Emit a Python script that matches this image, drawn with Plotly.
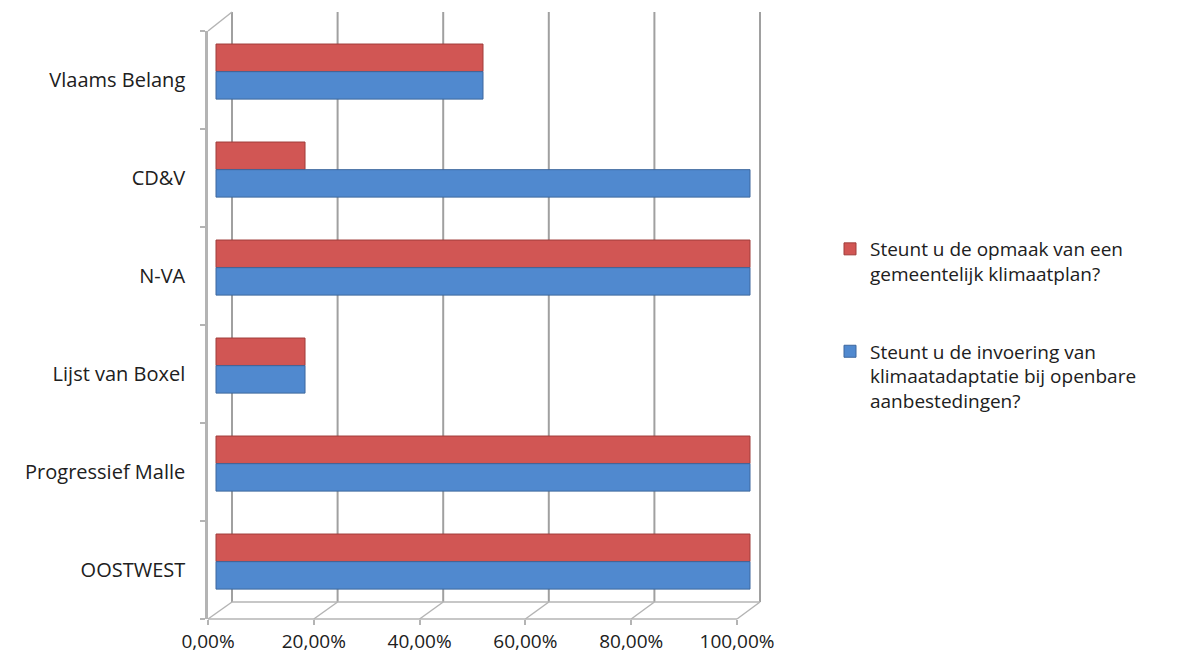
import plotly.graph_objects as go

# ---- data ----
categories = ["OOSTWEST", "Progressief Malle", "Lijst van Boxel", "N-VA", "CD&V", "Vlaams Belang"]
series_red_name = "Steunt u de opmaak van een<br>gemeentelijk klimaatplan?"
series_blue_name = "Steunt u de invoering van<br>klimaatadaptatie bij openbare<br>aanbestedingen?"
red_values = [1.0, 1.0, 0.1667, 1.0, 0.1667, 0.5]
blue_values = [1.0, 1.0, 0.1667, 1.0, 1.0, 0.5]
tick_values = [0.0, 0.2, 0.4, 0.6, 0.8, 1.0]
tick_labels = ["0,00%", "20,00%", "40,00%", "60,00%", "80,00%", "100,00%"]

# ---- layout geometry (page pixels) ----
W, H = 1186, 665
BODY = 8                 # default page body margin
FW, FH = W - 2 * BODY, H - 2 * BODY
L, R = 208, 770          # plot area left/right px (page)
T, B = 31, 619           # plot area top/bottom px (page)
BAR0, BAR1 = 216, 750    # bar axis: 0 and 1 in px
FRONT0, FRONT1 = 208, 737  # front floor: 0 and 1
BACK0, BACK1 = 232, 760    # back wall: 0 and 1
BACK_TOP, BACK_BOT = 12, 602

def px_to_u(px):
    return (px - BAR0) / (BAR1 - BAR0)

def front_px(v):
    return FRONT0 + (FRONT1 - FRONT0) * v

def back_px(v):
    return BACK0 + (BACK1 - BACK0) * v

def paper_y(p):
    return (B - p) / (B - T)

def paper_x(p):
    return (p - L) / (R - L)

font_family = "Open Sans, Liberation Sans, sans-serif"
text_color = "#202020"
frame_color = "#b4b4b4"
grid_color = "#a0a0a0"

fig = go.Figure()
fig.add_trace(go.Bar(
    y=categories, x=red_values, orientation="h", name=series_red_name,
    legendgroup="red",
    marker=dict(color="#d15654", line=dict(color="#a03d3b", width=1)),
    width=0.28, offset=0.087, hoverinfo="x+y",
))
fig.add_trace(go.Bar(
    y=categories, x=blue_values, orientation="h", name=series_blue_name,
    legendgroup="blue",
    marker=dict(color="#5089cf", line=dict(color="#3c679e", width=1)),
    width=0.28, offset=-0.195, hoverinfo="x+y",
))

shapes = []
for v in tick_values:
    xp = paper_x(back_px(v))
    # back wall gridline
    shapes.append(dict(type="line", xref="paper", yref="paper", layer="below",
                       x0=xp, x1=xp, y0=paper_y(BACK_TOP), y1=paper_y(BACK_BOT),
                       line=dict(color=grid_color, width=2)))
    # floor diagonal
    shapes.append(dict(type="line", xref="paper", yref="paper", layer="below",
                       x0=paper_x(front_px(v)), y0=paper_y(B),
                       x1=xp, y1=paper_y(BACK_BOT),
                       line=dict(color=frame_color, width=1.5)))
# floor front and back edges
shapes.append(dict(type="line", xref="paper", yref="paper", layer="below",
                   x0=paper_x(front_px(0)), x1=paper_x(front_px(1)),
                   y0=paper_y(B), y1=paper_y(B), line=dict(color=frame_color, width=1.5)))
shapes.append(dict(type="line", xref="paper", yref="paper", layer="below",
                   x0=paper_x(back_px(0)), x1=paper_x(back_px(1)),
                   y0=paper_y(BACK_BOT), y1=paper_y(BACK_BOT), line=dict(color=frame_color, width=1.5)))
# top-left diagonal of the wall
shapes.append(dict(type="line", xref="paper", yref="paper", layer="below",
                   x0=paper_x(L), y0=paper_y(T), x1=paper_x(back_px(0)), y1=paper_y(BACK_TOP),
                   line=dict(color=frame_color, width=1.5)))

fig.update_layout(
    width=FW, height=FH,
    margin=dict(l=L - BODY, r=(BODY + FW) - R, t=T - BODY, b=(BODY + FH) - B, pad=0, autoexpand=False),
    paper_bgcolor="white", plot_bgcolor="rgba(0,0,0,0)",
    font=dict(family=font_family, size=20, color=text_color),
    barmode="group",
    showlegend=True,
    legend=dict(
        x=paper_x(830), y=paper_y(230), xanchor="left", yanchor="top",
        traceorder="grouped", valign="top", tracegroupgap=50,
        font=dict(family=font_family, size=19, color=text_color),
        itemwidth=30, bgcolor="rgba(0,0,0,0)",
    ),
    xaxis=dict(
        range=[px_to_u(L), px_to_u(R)], showgrid=False, zeroline=False,
        tickvals=[px_to_u(front_px(v)) for v in tick_values], ticktext=tick_labels,
        ticks="outside", ticklen=5, tickcolor=frame_color, tickwidth=1.5,
        showline=False, ticklabelstandoff=0,
        tickfont=dict(family=font_family, size=19, color=text_color),
        fixedrange=True, automargin=False,
    ),
    yaxis=dict(
        type="category", categoryorder="array", categoryarray=categories,
        range=[-0.5, len(categories) - 0.5],
        showline=True, linecolor=frame_color, linewidth=2.5,
        ticks="outside", tickson="boundaries", ticklen=5, tickcolor=frame_color, tickwidth=1.5,
        showgrid=False, ticklabelstandoff=16,
        tickfont=dict(family=font_family, size=20, color=text_color),
        fixedrange=True, automargin=False,
    ),
    shapes=shapes,
)

fig.write_html("out.html")
